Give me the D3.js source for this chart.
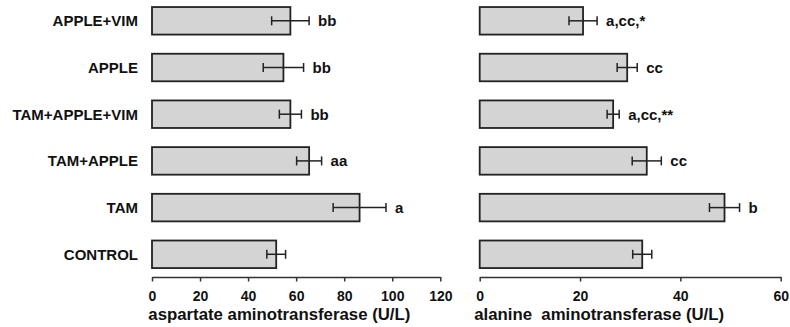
<!DOCTYPE html>
<html>
<head>
<meta charset="utf-8">
<script src="https://cdn.jsdelivr.net/npm/d3@7"></script>
<style>
  html, body { margin: 0; padding: 0; background: #fff; }
  svg { display: block; font-family: "Liberation Sans", Arial, Helvetica, sans-serif; }
</style>
</head>
<body>
<svg id="chart" width="790" height="327"></svg>
<script>
const categories = ["APPLE+VIM", "APPLE", "TAM+APPLE+VIM", "TAM+APPLE", "TAM", "CONTROL"];

const astMean = [57.6, 54.7, 57.6, 65.4, 86.4, 51.7];
const astErr  = [7.8, 8.4, 4.6, 5.2, 11.0, 3.9];
const astSig  = ["bb", "bb", "bb", "aa", "a", ""];
const astTicks = [0, 20, 40, 60, 80, 100, 120];

const altMean = [20.6, 29.4, 26.6, 33.3, 48.8, 32.4];
const altErr  = [2.8, 2.0, 1.2, 2.9, 3.0, 1.9];
const altSig  = ["a,cc,*", "cc", "a,cc,**", "cc", "b", ""];
const altTicks = [0, 20, 40, 60];

const svg = d3.select("#chart");

const y = d3.scaleBand()
  .domain(categories)
  .range([-2.3, 277.4])
  .paddingInner(0.41)
  .paddingOuter(0.2);

const axisY = 277;

// category labels
svg.append("g").selectAll("text")
  .data(categories)
  .join("text")
  .attr("x", 138)
  .attr("y", d => y(d) + y.bandwidth() / 2)
  .attr("dy", "0.36em")
  .attr("text-anchor", "end")
  .attr("font-size", 15)
  .attr("font-weight", "bold")
  .attr("fill", "#111")
  .text(d => d);

function panel(x, means, errs, sigs, ticks, title, titleDx) {
  const g = svg.append("g");
  // bars
  g.selectAll("rect")
    .data(categories)
    .join("rect")
    .attr("x", x(0))
    .attr("y", d => y(d))
    .attr("width", (d, i) => x(means[i]) - x(0))
    .attr("height", y.bandwidth())
    .attr("fill", "#d4d4d4")
    .attr("stroke", "#222")
    .attr("stroke-width", 1.8);

  // error bars
  const eb = g.append("g").attr("stroke", "#222").attr("stroke-width", 1.5);
  categories.forEach((c, i) => {
    const cy = y(c) + y.bandwidth() / 2;
    const x1 = x(means[i] - errs[i]), x2 = x(means[i] + errs[i]);
    eb.append("line").attr("x1", x1).attr("x2", x2).attr("y1", cy).attr("y2", cy);
    eb.append("line").attr("x1", x1).attr("x2", x1).attr("y1", cy - 4.5).attr("y2", cy + 4.5);
    eb.append("line").attr("x1", x2).attr("x2", x2).attr("y1", cy - 4.5).attr("y2", cy + 4.5);
  });

  // significance labels
  g.append("g").selectAll("text")
    .data(categories)
    .join("text")
    .attr("x", (d, i) => x(means[i] + errs[i]) + 9)
    .attr("y", d => y(d) + y.bandwidth() / 2)
    .attr("dy", "0.36em")
    .attr("font-size", 15)
    .attr("font-weight", "bold")
    .attr("fill", "#111")
    .text((d, i) => sigs[i]);

  // axis
  const ax = g.append("g")
    .attr("transform", `translate(0,${axisY})`)
    .call(d3.axisBottom(x).tickValues(ticks).tickFormat(d3.format("d")).tickSizeInner(4.5).tickSizeOuter(0).tickPadding(9.5));
  ax.select(".domain").attr("stroke", "#333").attr("stroke-width", 1.5);
  ax.selectAll(".tick line").attr("stroke", "#333").attr("stroke-width", 1.5);
  ax.selectAll(".tick text")
    .attr("font-size", 14)
    .attr("font-weight", "bold")
    .attr("fill", "#111")
    .attr("font-family", "'Liberation Sans', Arial, sans-serif");

  g.append("text")
    .attr("x", x(0) + titleDx)
    .attr("y", 320)
    .attr("font-size", 16.8)
    .attr("font-weight", "bold")
    .attr("fill", "#111")
    .style("white-space", "pre")
    .text(title);
}

const xAst = d3.scaleLinear().domain([0, 120]).range([152, 440.3]);
const xAlt = d3.scaleLinear().domain([0, 60]).range([479.7, 780.7]);

panel(xAst, astMean, astErr, astSig, astTicks, "aspartate aminotransferase (U/L)", -3.7);
panel(xAlt, altMean, altErr, altSig, altTicks, "alanine  aminotransferase (U/L)", -5.5);
</script>
</body>
</html>
